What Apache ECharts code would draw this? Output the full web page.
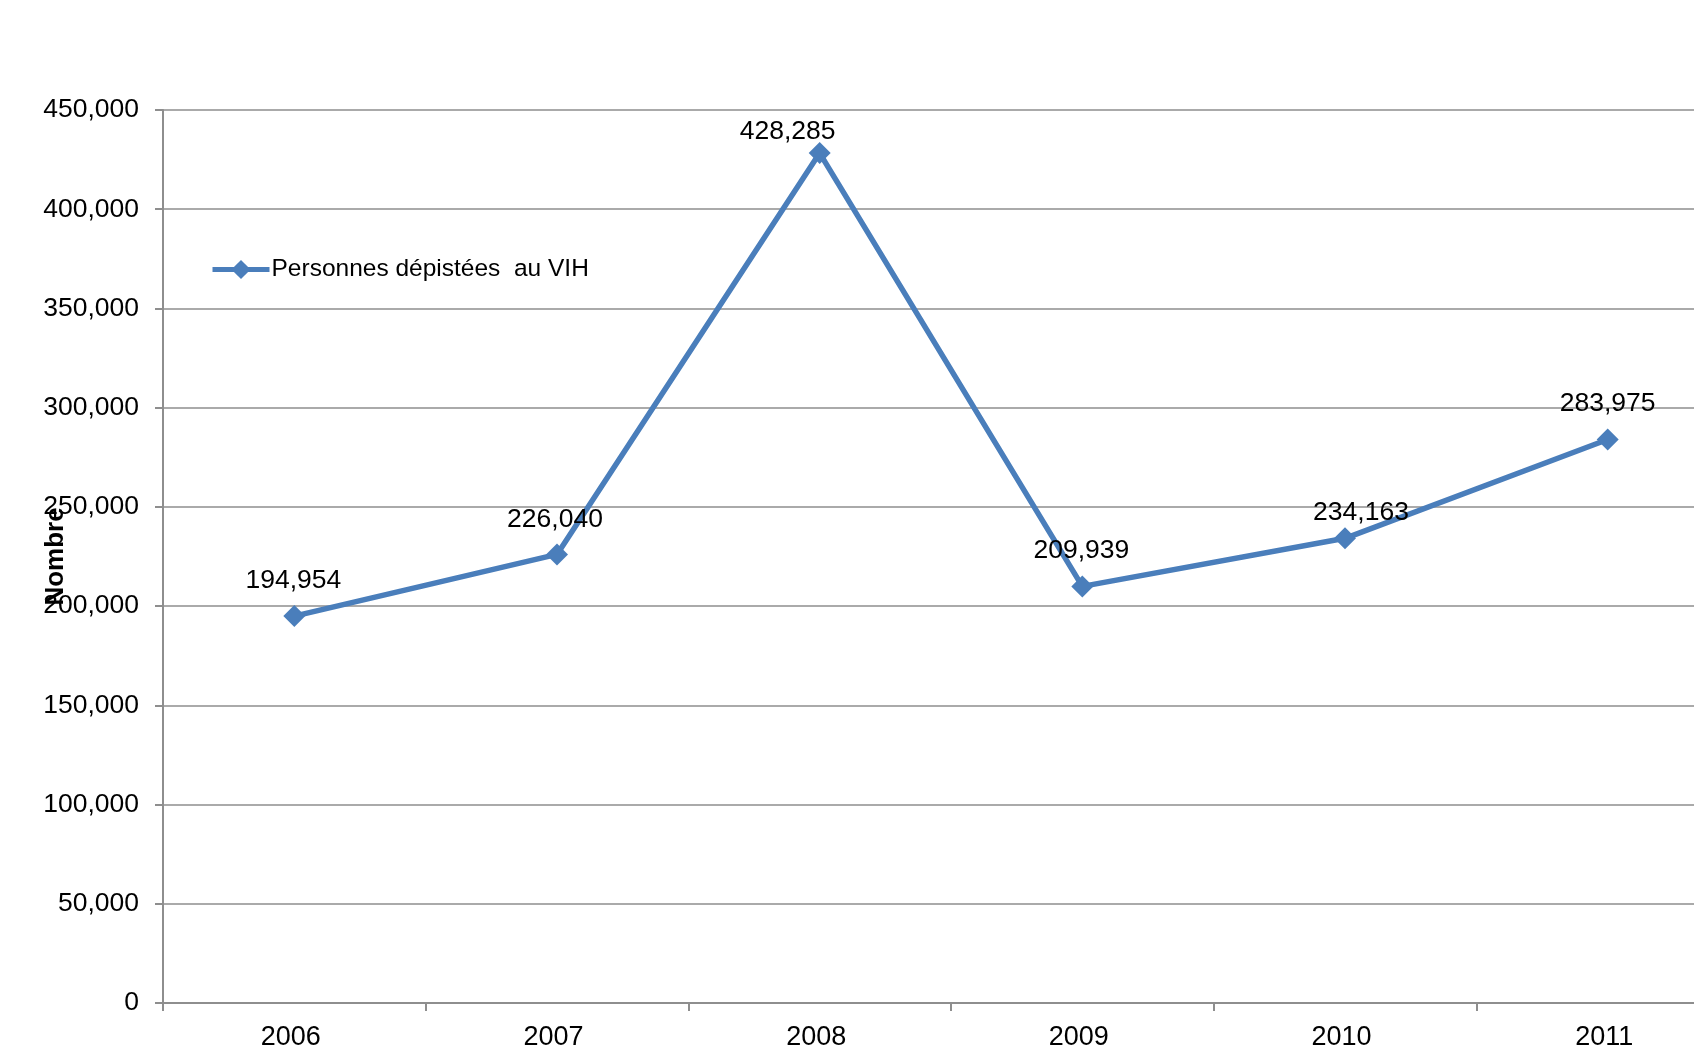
<!DOCTYPE html>
<html>
<head>
<meta charset="utf-8">
<title>Personnes dépistées au VIH</title>
<script src="https://cdn.jsdelivr.net/npm/echarts@6/dist/echarts.min.js"></script>
<style>
  html, body { margin: 0; padding: 0; background: #fff; }
  #chart { width: 1694px; height: 1053px; }
</style>
</head>
<body>
<div id="chart"></div>
<script>
// Annual counts of people tested for HIV
const years = ['2006', '2007', '2008', '2009', '2010', '2011'];
const tested = [194954, 226040, 428285, 209939, 234163, 283975];
const seriesName = 'Personnes dépistées  au VIH';
const yAxisName = 'Nombre';

const fmt = v => Number(v).toLocaleString('en-US');
const FONT = '"Liberation Sans", Arial, sans-serif';
const BLUE = '#4a7ebb';
const GRAY = '#8e8e8e';

// per-point nudges for value labels so they clear the line
const labelShift = [[-1, 0], [-2, 1], [-32, 14], [-1, 0], [16, 10], [0, 0]];

const chart = echarts.init(document.getElementById('chart'), null, { renderer: 'canvas' });

chart.setOption({
  animation: false,
  backgroundColor: '#ffffff',
  textStyle: { fontFamily: FONT, color: '#000' },
  grid: {
    left: 163, top: 110, width: 1576, height: 893,
    containLabel: false,
    outerBoundsMode: 'none'
  },
  legend: {
    show: true,
    left: 210,
    top: 257,
    orient: 'vertical',
    itemWidth: 57,
    itemHeight: 24,
    itemGap: 0,
    padding: 0,
    lineStyle: { color: BLUE, width: 5 },
    itemStyle: { color: BLUE },
    textStyle: { fontFamily: FONT, fontSize: 24.5, color: '#000', padding: [0, 0, 0, -3] },
    data: [{ name: seriesName }]
  },
  xAxis: {
    type: 'category',
    data: years,
    boundaryGap: true,
    axisLine: { show: true, lineStyle: { color: GRAY, width: 2 } },
    axisTick: { show: true, length: 8, lineStyle: { color: GRAY, width: 2 } },
    axisLabel: { margin: 21, fontSize: 27, color: '#000', fontFamily: FONT, padding: [0, 7, 0, 0] },
    splitLine: { show: false }
  },
  yAxis: {
    type: 'value',
    min: 0,
    max: 450000,
    interval: 50000,
    name: yAxisName,
    nameLocation: 'middle',
    nameGap: 94,
    nameRotate: 90,
    nameMoveOverlap: false,
    nameTextStyle: { fontSize: 26, fontWeight: 'bold', color: '#000', fontFamily: FONT },
    axisLine: { show: true, lineStyle: { color: GRAY, width: 2 } },
    axisTick: { show: true, length: 8, lineStyle: { color: GRAY, width: 2 } },
    axisLabel: { margin: 24, fontSize: 26.5, color: '#000', fontFamily: FONT, formatter: fmt },
    splitLine: { show: true, lineStyle: { color: GRAY, width: 1.5 } }
  },
  series: [{
    name: seriesName,
    type: 'line',
    data: tested.map((v, i) => ({
      value: v,
      label: { offset: labelShift[i] }
    })),
    symbol: 'diamond',
    symbolSize: 22,
    lineStyle: { color: BLUE, width: 5.5 },
    itemStyle: { color: BLUE },
    label: {
      show: true,
      position: 'top',
      distance: 11,
      fontSize: 26.5,
      color: '#000',
      fontFamily: FONT,
      formatter: p => fmt(p.value)
    }
  }]
});
</script>
</body>
</html>
